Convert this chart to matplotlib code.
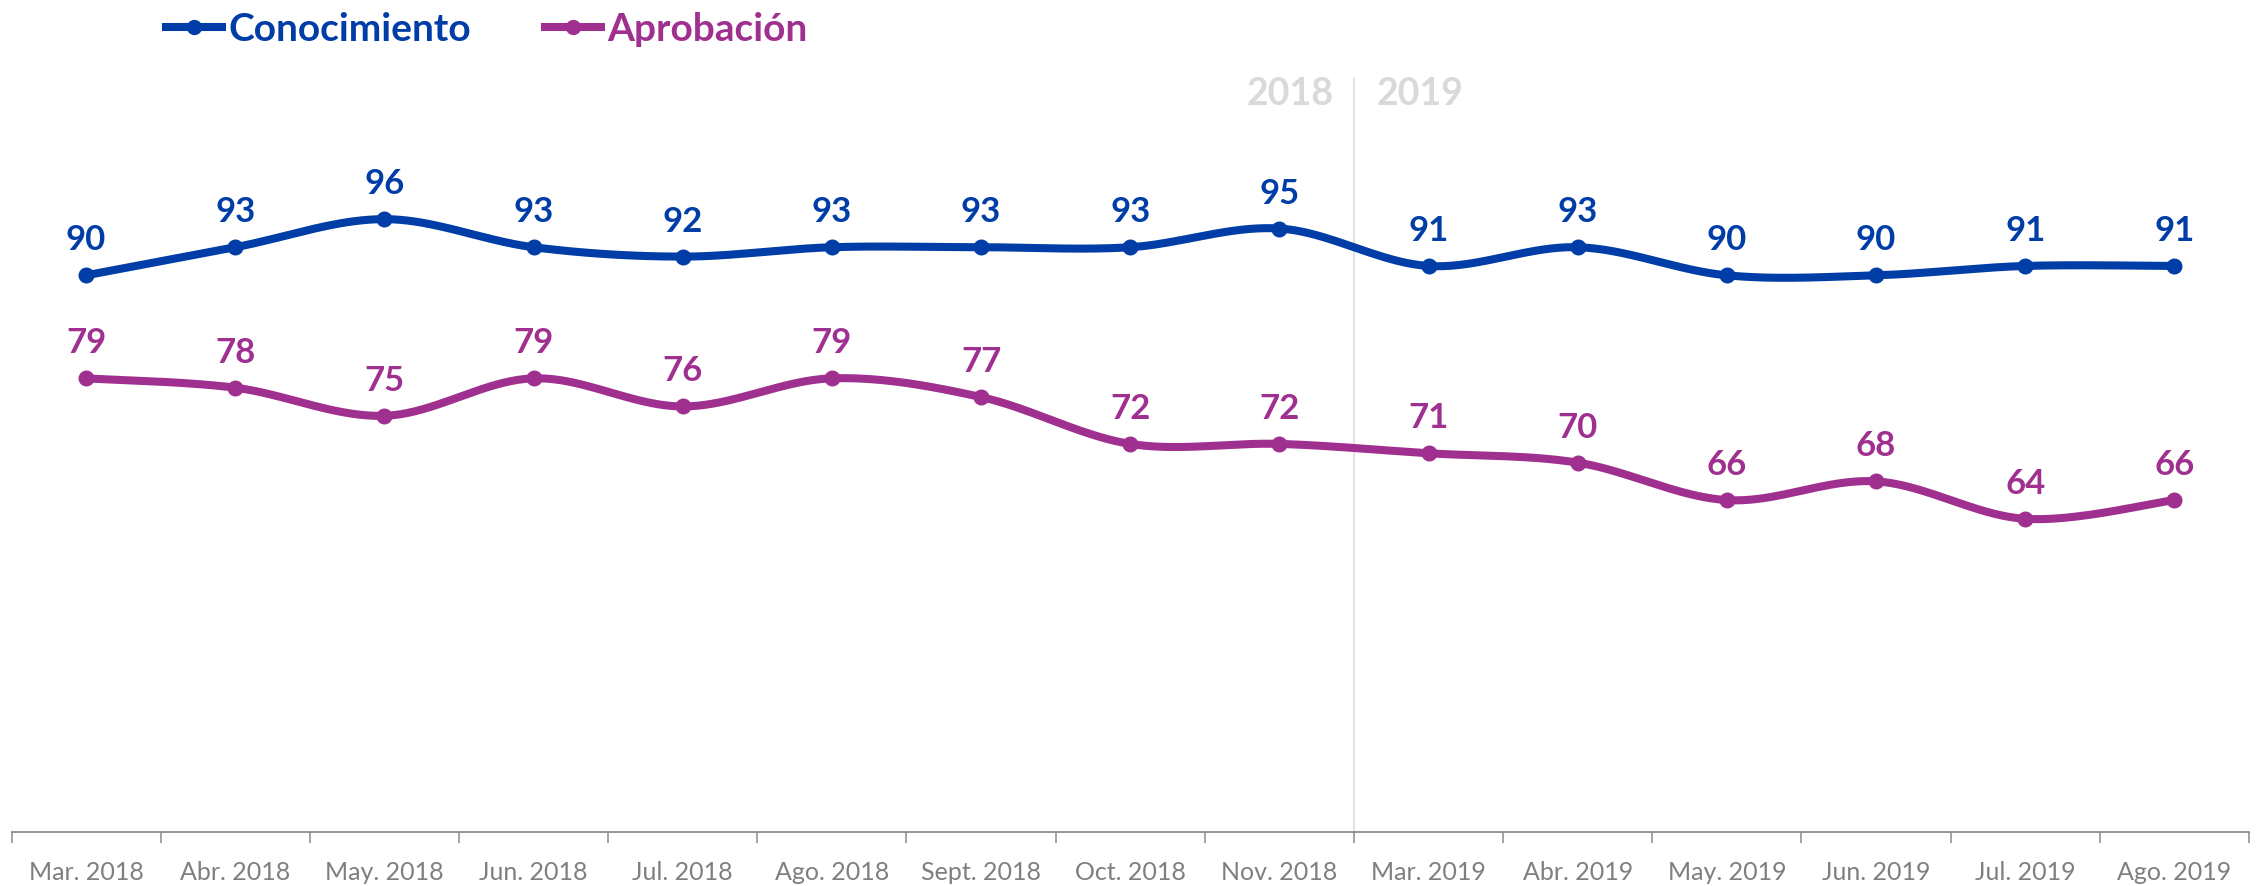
import numpy as np
import matplotlib
matplotlib.use("Agg")
import matplotlib.pyplot as plt
from matplotlib.lines import Line2D

categories = ["Mar. 2018", "Abr. 2018", "May. 2018", "Jun. 2018", "Jul. 2018",
              "Ago. 2018", "Sept. 2018", "Oct. 2018", "Nov. 2018", "Mar. 2019",
              "Abr. 2019", "May. 2019", "Jun. 2019", "Jul. 2019", "Ago. 2019"]
conocimiento = [90, 93, 96, 93, 92, 93, 93, 93, 95, 91, 93, 90, 90, 91, 91]
aprobacion = [79, 78, 75, 79, 76, 79, 77, 72, 72, 71, 70, 66, 68, 64, 66]
series_names = ["Conocimiento", "Aprobación"]
years = ["2018", "2019"]

BLUE = "#003DA6"
PURPLE = "#A0308F"
FONT = "Lato"

plt.rcParams['font.family'] = [FONT, 'DejaVu Sans']


def smooth(x, y, n=40):
    x = np.asarray(x, float)
    y = np.asarray(y, float)
    P = np.column_stack([x, y])
    Pe = np.vstack([P[0], P, P[-1]])
    out = []
    t = np.linspace(0, 1, n)[:, None]
    for i in range(len(P) - 1):
        p0 = Pe[i + 1]
        p3 = Pe[i + 2]
        c1 = p0 + (Pe[i + 2] - Pe[i]) / 6.0
        c2 = p3 - (Pe[i + 3] - Pe[i + 1]) / 6.0
        seg = ((1 - t) ** 3) * p0 + 3 * ((1 - t) ** 2) * t * c1 + 3 * (1 - t) * t ** 2 * c2 + t ** 3 * p3
        out.append(seg if i == 0 else seg[1:])
    S = np.vstack(out)
    return S[:, 0], S[:, 1]


fig = plt.figure(figsize=(22.6, 8.86), dpi=100)
ax = fig.add_axes([0.0051, 0.0614, 0.9900, 0.9386])

x = np.arange(len(categories))
for vals, col in [(conocimiento, BLUE), (aprobacion, PURPLE)]:
    sx, sy = smooth(x, vals)
    ax.plot(sx, sy, color=col, lw=5.8, solid_capstyle='round', zorder=3)
    ax.plot(x, vals, 'o', color=col, ms=10.5, zorder=4)
    for xi, v in zip(x, vals):
        ax.annotate(str(v), (xi, v), xytext=(0, 18), textcoords='offset points',
                    ha='center', va='baseline', fontsize=25, fontweight='bold',
                    color=col, zorder=5)

ax.set_xlim(-0.5, len(categories) - 0.5)
ax.set_ylim(30.6, 119.4)

# divider between years
ax.plot([8.5, 8.5], [30.6, 111.0], color="#E3E3E3", lw=1.5, zorder=1)
ax.text(8.365, 109.4, years[0], ha='right', va='center', fontsize=27,
        fontweight='bold', color="#D9D9D9")
ax.text(8.65, 109.4, years[1], ha='left', va='center', fontsize=27,
        fontweight='bold', color="#D9D9D9")

for s in ['top', 'right', 'left']:
    ax.spines[s].set_visible(False)
ax.spines['bottom'].set_color("#8C8C8C")
ax.spines['bottom'].set_linewidth(1.3)
ax.set_yticks([])
ax.set_xticks(np.arange(-0.5, len(categories)), minor=False)
ax.set_xticklabels([])
ax.tick_params(axis='x', which='major', length=8, width=1.1, color="#8C8C8C")
ax.set_xticks(x, minor=True)
ax.set_xticklabels(categories, minor=True)
ax.tick_params(axis='x', which='minor', length=0, pad=21, labelsize=18,
               labelcolor="#7F7F7F")

handles = [Line2D([], [], color=BLUE, lw=5.8, marker='o', ms=10),
           Line2D([], [], color=PURPLE, lw=5.8, marker='o', ms=10)]
leg = fig.legend(handles, series_names, loc='upper left', bbox_to_anchor=(0.058, 1.026),
                 ncol=2, frameon=False, handlelength=1.45, handletextpad=0.15,
                 columnspacing=1.9, prop={'family': FONT, 'weight': 'bold', 'size': 28})
for t, c in zip(leg.get_texts(), [BLUE, PURPLE]):
    t.set_color(c)

fig.savefig("out.png", dpi=100)
